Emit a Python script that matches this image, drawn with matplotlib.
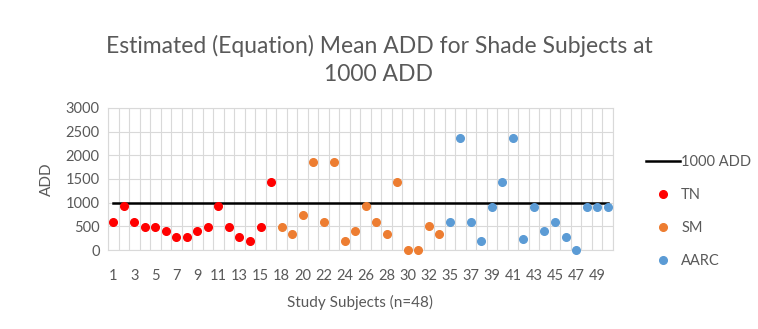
import matplotlib.pyplot as plt
import numpy as np

plt.rcParams['font.family'] = ['Lato', 'DejaVu Sans']

# Subject IDs along the category axis (48 subjects)
subject_ids = list(range(1, 17)) + list(range(18, 34)) + list(range(35, 51))

tn_add = [600, 920, 600, 480, 480, 410, 280, 280, 410, 480, 920, 480, 280, 190, 480, 1440]
sm_add = [480, 340, 730, 1850, 600, 1850, 190, 410, 920, 600, 340, 1440, 0, 0, 500, 340]
aarc_add = [600, 2370, 600, 200, 910, 1440, 2370, 240, 910, 410, 590, 275, 0, 910, 910, 910]
threshold = [1000] * len(subject_ids)

grid_col = '#D9D9D9'
text_col = '#595959'

fig = plt.figure(figsize=(7.58, 3.29), dpi=100)
ax = fig.add_axes([0.1425, 0.240, 0.666, 0.432])

x = np.arange(len(subject_ids))
n_tn, n_sm = len(tn_add), len(sm_add)

ax.plot(x, threshold, color='black', lw=1.8, label='1000 ADD', zorder=3)
ax.plot(x[:n_tn], tn_add, 'o', color='#FF0000', ms=5.5, label='TN', clip_on=False, zorder=4)
ax.plot(x[n_tn:n_tn + n_sm], sm_add, 'o', color='#ED7D31', ms=5.5, label='SM', clip_on=False, zorder=4)
ax.plot(x[n_tn + n_sm:], aarc_add, 'o', color='#5B9BD5', ms=5.5, label='AARC', clip_on=False, zorder=4)

ax.set_xlim(-0.5, len(subject_ids) - 0.5)
ax.set_ylim(0, 3000)
ax.set_yticks(range(0, 3001, 500))
ax.set_xticks(x[::2])
ax.set_xticklabels([str(s) for s in subject_ids[::2]])
ax.set_xticks(np.arange(-0.5, len(subject_ids), 1.0), minor=True)

ax.grid(axis='y', color=grid_col, lw=0.8)
ax.grid(axis='x', which='minor', color=grid_col, lw=0.8)
ax.set_axisbelow(True)
for side in ['top', 'right', 'left', 'bottom']:
    ax.spines[side].set_color(grid_col)

ax.tick_params(axis='both', which='both', length=0, labelsize=10.5, colors=text_col)
ax.tick_params(axis='x', pad=14)
ax.tick_params(axis='y', pad=6)

ax.set_ylabel('ADD', fontsize=11, color=text_col, labelpad=8)
ax.set_xlabel('Study Subjects (n=48)', fontsize=11, color=text_col, labelpad=8)

fig.suptitle('Estimated (Equation) Mean ADD for Shade Subjects at\n1000 ADD',
             x=0.5, y=0.895, fontsize=16.5, color=text_col, linespacing=1.45)

ax.legend(loc='center left', bbox_to_anchor=(1.04, 0.27), frameon=False,
          fontsize=10.5, labelcolor=text_col, handlelength=2.3, handletextpad=0.1,
          labelspacing=1.3)

fig.savefig('out.png', dpi=100)
